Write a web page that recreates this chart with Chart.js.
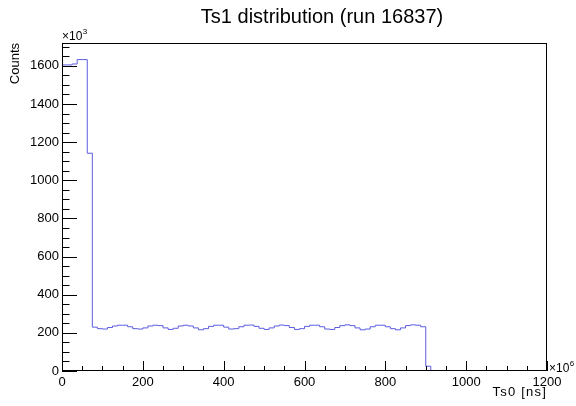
<!DOCTYPE html>
<html>
<head>
<meta charset="utf-8">
<script src="https://cdn.jsdelivr.net/npm/chart.js@4/dist/chart.umd.min.js"></script>
<style>
  html, body { margin: 0; padding: 0; background: #fff; }
  #wrap { width: 576px; height: 406px; position: relative; }
</style>
</head>
<body>
<div id="wrap"><canvas id="c" width="576" height="406"></canvas></div>
<script>
// Histogram definition (x in units of 10^6 ns, counts in units of 10^3)
const binLow = 0;
const binWidth = 12.5;
const counts = [
  1605, 1605, 1610, 1633, 1633, 1142,
  230, 222, 220, 228, 236, 240, 240, 232, 222, 220,
  226, 236, 240, 238, 226, 218, 224, 236, 240, 236,
  226, 216, 222, 234, 240, 240, 230, 220, 222, 232,
  240, 241, 234, 224, 218, 226, 236, 241, 238, 228,
  218, 222, 234, 240, 240, 232, 220, 218, 228, 238,
  242, 238, 226, 216, 220, 232, 240, 240, 232, 222,
  216, 226, 238, 242, 240, 232,
  25,
  0, 0, 0, 0, 0, 0, 0, 0, 0, 0, 0, 0, 0, 0, 0, 0, 0, 0, 0, 0, 0, 0, 0
];
const xMin = 0, xMax = 1200, xMajor = 200, xMinor = 50;
const yMin = 0, yMax = 1720, yMajor = 200, yMinor = 50;
const titleText = 'Ts1 distribution (run 16837)';
const xTitle = 'Ts0 [ns]';
const yTitle = 'Counts';
const xExp = '6';
const yExp = '3';

const points = counts.map((c, i) => ({ x: binLow + i * binWidth, y: c }));
points.push({ x: binLow + counts.length * binWidth, y: counts[counts.length - 1] });

const FONT = '"Liberation Sans", Arial, Helvetica, sans-serif';

const rootStyle = {
  id: 'rootStyle',
  afterDraw(chart) {
    const ctx = chart.ctx;
    const a = chart.chartArea;
    const xs = chart.scales.x, ys = chart.scales.y;
    ctx.save();
    ctx.strokeStyle = '#000';
    ctx.lineWidth = 1;
    // frame
    ctx.strokeRect(Math.round(a.left) + 0.5, Math.round(a.top) + 0.5,
                   Math.round(a.right - a.left) - 1, Math.round(a.bottom - a.top) - 1);
    // y ticks (inside)
    ctx.beginPath();
    for (let v = yMin; v <= yMax + 1e-9; v += yMinor) {
      const py = Math.round(ys.getPixelForValue(v)) + 0.5;
      const major = Math.abs(v / yMajor - Math.round(v / yMajor)) < 1e-9;
      const len = major ? 15 : 7.5;
      ctx.moveTo(a.left, py);
      ctx.lineTo(a.left + len, py);
    }
    // x ticks (inside)
    for (let v = xMin; v <= xMax + 1e-9; v += xMinor) {
      const px = Math.round(xs.getPixelForValue(v)) + 0.5;
      const major = Math.abs(v / xMajor - Math.round(v / xMajor)) < 1e-9;
      const len = major ? 10 : 5;
      ctx.moveTo(px, a.bottom);
      ctx.lineTo(px, a.bottom - len);
    }
    ctx.stroke();

    ctx.fillStyle = '#000';
    // title
    ctx.font = '20px ' + FONT;
    ctx.textAlign = 'center';
    ctx.textBaseline = 'alphabetic';
    ctx.fillText(titleText, 322, 23);

    // x axis title
    ctx.font = '13px ' + FONT;
    ctx.textAlign = 'right';
    ctx.letterSpacing = '1.2px';
    ctx.fillText(xTitle, a.right, 396);
    ctx.letterSpacing = '0px';

    // y axis title (rotated)
    ctx.save();
    ctx.translate(18.5, a.top);
    ctx.rotate(-Math.PI / 2);
    ctx.textAlign = 'right';
    ctx.fillText(yTitle, 0, 0);
    ctx.restore();

    // exponents
    ctx.textAlign = 'left';
    ctx.font = '12px ' + FONT;
    const w1 = ctx.measureText('\u00d710').width;
    ctx.fillText('\u00d710', a.left, 40);
    ctx.fillText('\u00d710', a.right + 2, 372);
    ctx.font = '8px ' + FONT;
    ctx.fillText(yExp, a.left + w1 + 0.5, 34);
    ctx.fillText(xExp, a.right + 2 + w1 + 0.5, 366);
    ctx.restore();
  }
};

new Chart(document.getElementById('c'), {
  type: 'line',
  data: {
    datasets: [{
      data: points,
      stepped: 'before',
      borderColor: '#5c5ce0',
      borderWidth: 1,
      pointRadius: 0,
      fill: false,
      tension: 0
    }]
  },
  options: {
    responsive: false,
    animation: false,
    devicePixelRatio: 1,
    layout: { padding: { top: 43, right: 29, left: 0, bottom: 0 } },
    plugins: { legend: { display: false }, title: { display: false }, tooltip: { enabled: false } },
    scales: {
      x: {
        type: 'linear',
        min: xMin, max: xMax,
        grid: { display: false, drawTicks: false },
        border: { display: false },
        ticks: {
          stepSize: xMajor,
          includeBounds: false,
          padding: 4,
          color: '#000',
          maxRotation: 0,
          autoSkip: false,
          font: { family: FONT, size: 13 },
          callback: v => String(v)
        },
        afterFit: s => { s.height = 35; }
      },
      y: {
        type: 'linear',
        min: yMin, max: yMax,
        grid: { display: false, drawTicks: false },
        border: { display: false },
        ticks: {
          stepSize: yMajor,
          includeBounds: false,
          padding: 3,
          color: '#000',
          font: { family: FONT, size: 13 },
          callback: v => String(v)
        },
        afterFit: s => { s.width = 62; }
      }
    }
  },
  plugins: [rootStyle]
});
</script>
</body>
</html>
